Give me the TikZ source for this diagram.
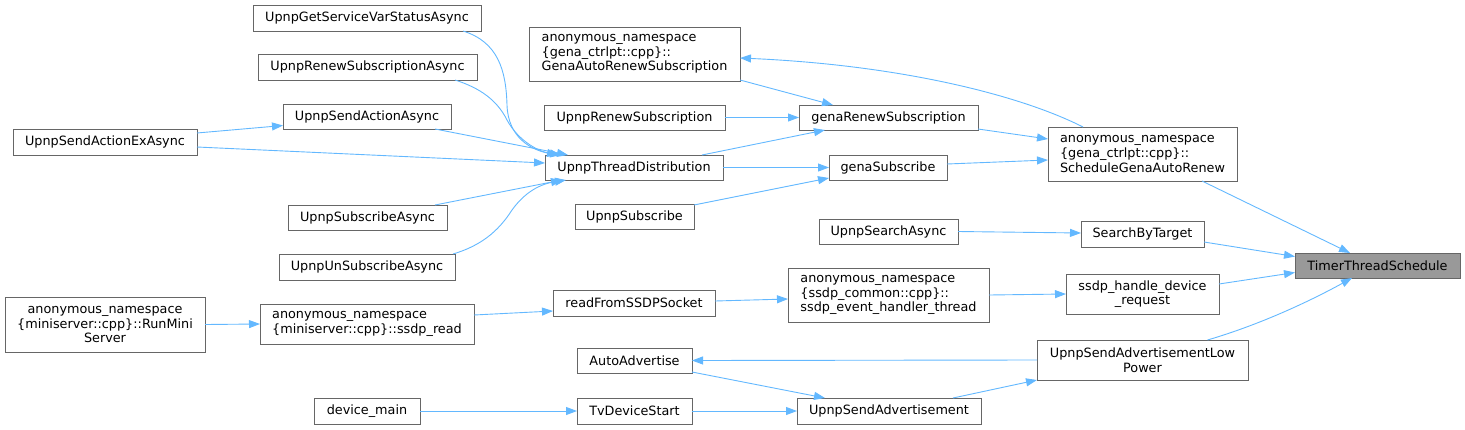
\documentclass[tikz,border=0pt]{standalone}
\usepackage{fontspec}
\setmainfont{DejaVu Sans}
\usetikzlibrary{arrows.meta,calc}
\definecolor{edgec}{HTML}{63B8FF}
\definecolor{bordc}{HTML}{666666}
\definecolor{hlc}{HTML}{999999}
\tikzset{
  box/.style={draw=bordc, line width=1pt, fill=white, inner sep=0pt, outer sep=0pt, font=\fontsize{12.8}{14.6}\selectfont},
  boxl/.style={box, align=left},
  boxc/.style={box, align=center},
  hl/.style={box, fill=hlc},
  edge/.style={draw=edgec, line width=0.9pt, -{Triangle[length=11pt,width=8pt]}},
}
\newcommand{\bnode}[7]{%
  % #1 style, #2 name, #3 x1, #4 y1, #5 x2, #6 y2, #7 text
  \node[#1, minimum width={#5-#3}, minimum height={#6-#4}] (#2) at ({(#3+#5)/2},{(#4+#6)/2}) {#7};}
\begin{document}
\begin{tikzpicture}[x=1pt,y=-1pt]
\useasboundingbox (0,0) rectangle (1465,429);
\bnode{box}{gsv}{253}{5}{481}{31}{UpnpGetServiceVarStatusAsync}
\bnode{box}{rsa}{258}{54}{477}{80}{UpnpRenewSubscriptionAsync}
\bnode{box}{saa}{283}{104}{451}{129}{UpnpSendActionAsync}
\bnode{box}{saex}{13}{129}{197}{155}{UpnpSendActionExAsync}
\bnode{box}{suba}{288}{205}{447}{230}{UpnpSubscribeAsync}
\bnode{box}{unsub}{279}{254}{455}{280}{UpnpUnSubscribeAsync}
\bnode{boxl}{gars}{529}{27}{740}{81}{anonymous\_namespace\\\{gena\_ctrlpt::cpp\}::\\GenaAutoRenewSubscription}
\bnode{box}{urs}{544}{105}{725}{130}{UpnpRenewSubscription}
\bnode{box}{grs}{799}{105}{978}{130}{genaRenewSubscription}
\bnode{box}{td}{545}{155}{723}{180}{UpnpThreadDistribution}
\bnode{box}{gs}{829}{155}{947}{180}{genaSubscribe}
\bnode{box}{usub}{575}{204}{694}{229}{UpnpSubscribe}
\bnode{box}{usearch}{819}{219}{958}{244}{UpnpSearchAsync}
\bnode{boxl}{seht}{788}{268}{989}{322}{anonymous\_namespace\\\{ssdp\_common::cpp\}::\\ssdp\_event\_handler\_thread}
\bnode{boxl}{sgar}{1048}{127}{1237}{181}{anonymous\_namespace\\\{gena\_ctrlpt::cpp\}::\\ScheduleGenaAutoRenew}
\bnode{box}{sbt}{1081}{221}{1204}{247}{SearchByTarget}
\bnode{hl}{tts}{1295}{253}{1460}{278}{TimerThreadSchedule}
\bnode{boxc}{shdr}{1066}{274}{1219}{314}{ssdp\_handle\_device\\\_request}
\bnode{boxc}{rms}{5}{297}{205}{352}{anonymous\_namespace\\\{miniserver::cpp\}::RunMini\\Server}
\bnode{boxl}{sread}{260}{304}{474}{344}{anonymous\_namespace\\\{miniserver::cpp\}::ssdp\_read}
\bnode{box}{rfss}{553}{290}{715}{316}{readFromSSDPSocket}
\bnode{box}{dm}{314}{398}{420}{424}{device\_main}
\bnode{box}{aa}{577}{348}{692}{373}{AutoAdvertise}
\bnode{box}{tvds}{577}{398}{692}{424}{TvDeviceStart}
\bnode{box}{usa}{797}{398}{981}{424}{UpnpSendAdvertisement}
\bnode{boxc}{usalp}{1037}{340}{1248}{380}{UpnpSendAdvertisementLow\\Power}

% edges into UpnpThreadDistribution
\draw[edge] ($(gsv.south east)+(-18,0)$) .. controls (498,42) and (506,70) .. (507,105) .. controls (508,138) and (532,150) .. ($(td.north west)+(13,0)$);
\draw[edge] ($(rsa.south east)+(-22,0)$) .. controls (480,88) and (497,100) .. (507,120) .. controls (519,142) and (540,152) .. ($(td.north west)+(16,0)$);
\draw[edge] ($(saa.south east)+(-16,0)$) -- ($(td.north west)+(23,0)$);
\draw[edge] ($(saex.east)+(0,5)$) -- ($(td.west)+(0,-4.5)$);
\draw[edge] ($(saex.north east)+(0,4)$) -- ($(saa.west)+(0,9)$);
\draw[edge] ($(suba.north east)+(-12,0)$) -- ($(td.south west)+(17,0)$);
\draw[edge] ($(unsub.north east)+(-2,0)$) .. controls (480,246) and (498,232) .. (512,210) .. controls (525,192) and (540,184) .. ($(td.south west)+(21,0)$);

% middle columns
\draw[edge] ($(gars.south east)+(0,-1)$) -- ($(grs.north west)+(34,0)$);
\draw[edge] (urs.east) -- (grs.west);
\draw[edge] ($(td.north east)+(-21,0)$) -- ($(grs.south west)+(26,0)$);
\draw[edge] (td.east) -- (gs.west);
\draw[edge] ($(usub.north east)+(0,1)$) -- ($(gs.south west)+(0,-2)$);
\draw[edge] ($(grs.south east)+(0,-1)$) -- ($(sgar.west)+(0,-15)$);
\draw[edge] ($(gs.east)+(0,-3.5)$) -- ($(sgar.west)+(0,6)$);
\draw[edge] ($(sgar.north west)+(35,0)$) .. controls (1020,95) and (900,65) .. ($(gars.east)+(0,4)$);

% into TimerThreadSchedule
\draw[edge] ($(sgar.south east)+(-35,0)$) -- ($(tts.north west)+(55,0)$);
\draw[edge] ($(sbt.east)+(0,8)$) -- ($(tts.west)+(0,-9)$);
\draw[edge] ($(shdr.east)+(0,-10)$) -- ($(tts.west)+(0,7)$);
\draw[edge] ($(usalp.north)+(65,0)$) .. controls (1262,324) and (1312,300) .. ($(tts.south west)+(57,0)$);

\draw[edge] (usearch.east) -- ($(sbt.west)+(0,-1)$);
\draw[edge] (seht.east) -- (shdr.west);
\draw[edge] ($(rfss.east)+(0,-2)$) -- ($(seht.west)+(0,4)$);
\draw[edge] ($(sread.east)+(0,-9)$) -- ($(rfss.west)+(0,8)$);
\draw[edge] (rms.east) -- (sread.west);

% advertisement part
\draw[edge] (usalp.west) -- (aa.east);
\draw[edge] ($(aa.south east)+(0,-1)$) -- ($(usa.north west)+(28,0)$);
\draw[edge] ($(usa.north east)+(-28,0)$) -- (usalp.south west);
\draw[edge] (dm.east) -- (tvds.west);
\draw[edge] (tvds.east) -- (usa.west);
\end{tikzpicture}
\end{document}
